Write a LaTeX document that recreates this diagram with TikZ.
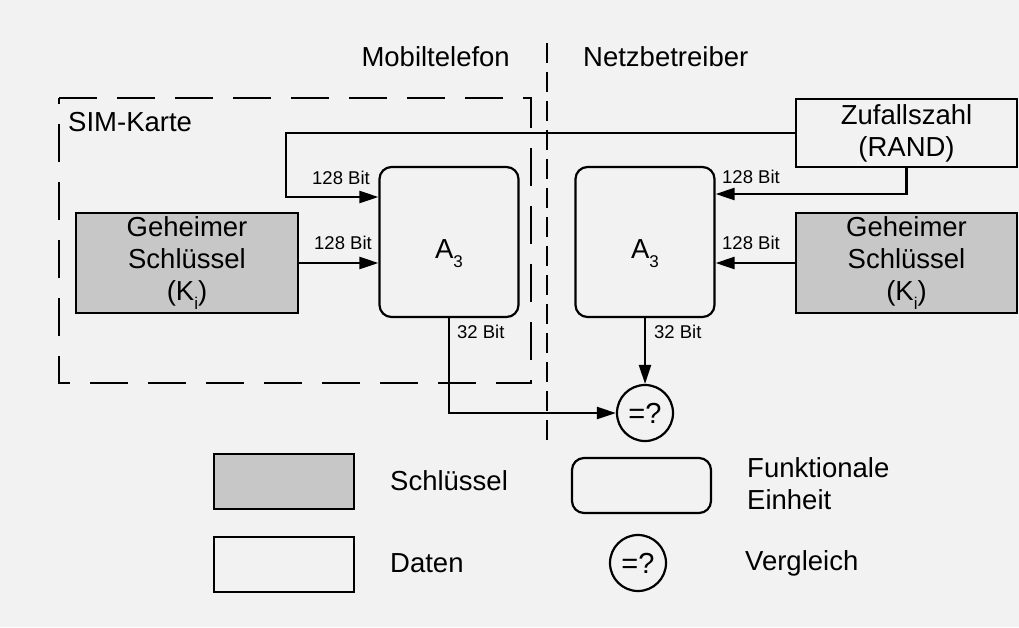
\documentclass[tikz,border=0pt]{standalone}
\usepackage{fontspec}
\setmainfont{Liberation Sans}
\usetikzlibrary{arrows.meta}
\newcommand{\subidx}[1]{\raisebox{-0.36em}{\fontsize{17}{17}\selectfont #1}}
\newcommand{\atext}{\raisebox{-16pt}[0pt][0pt]{A\subidx{3}}}
\begin{document}
\begin{tikzpicture}[x=1pt,y=-1pt,
  every node/.style={font=\fontsize{27.5}{32}\selectfont, inner sep=0pt},
  keybox/.style={draw, line width=2.2pt, fill=black!22, minimum width=222pt, minimum height=100pt, align=center},
  databox/.style={draw, line width=2.2pt, minimum width=221pt, minimum height=68pt, align=center},
  funcbox/.style={draw, line width=2.2pt, rounded corners=12pt, minimum width=139pt, minimum height=150pt},
  cmpnode/.style={draw, circle, line width=2.2pt, minimum size=56pt, font=\fontsize{29}{32}\selectfont},
  legbox/.style={draw, line width=2.2pt, minimum width=140pt, minimum height=55pt},
  conn/.style={line width=2.2pt},
  arr/.style={conn, -{Triangle[length=19pt,width=12pt]}},
  lbl/.style={font=\fontsize{18.5}{20}\selectfont},
  simline/.style={line width=2.6pt, dash pattern=on 38pt off 20pt},
  divline/.style={line width=2.6pt, dash pattern=on 20pt off 9pt}
]
% background / bounding box
\fill[black!5] (0,0) rectangle (1019,627);
\useasboundingbox (0,0) rectangle (1019,627);

% region headings
\node[anchor=east] (mob) at (510,57) {Mobiltelefon};
\node[anchor=west] (netz) at (583,57) {Netzbetreiber};

% SIM card border
\coordinate (s1) at (59,383);
\coordinate (s2) at (59,98);
\coordinate (s3) at (531,98);
\coordinate (s4) at (531,383);
\draw[simline] (s2) -- (s3) -- (s4) -- (s1) -- cycle;
\node[anchor=west] (sim) at (68,122) {SIM-Karte};

% divider
\coordinate (dtop) at (547,43);
\coordinate (dbot) at (547,443);
\draw[divline] (dtop) -- (dbot);

% main nodes
\node[keybox] (keyL) at (187,263) {Geheimer\\Schlüssel\\(K\subidx{i})};
\node[funcbox] (A3L) at (449,242) {\atext};
\node[funcbox] (A3R) at (645,242) {\atext};
\node[databox] (rand) at (906.5,133) {Zufallszahl\\(RAND)};
\node[keybox, minimum width=221pt] (keyR) at (906.5,263) {Geheimer\\Schlüssel\\(K\subidx{i})};
\node[cmpnode] (cmp) at (645,413) {=?};

% connectors
\coordinate (r1) at (286,133);
\coordinate (r2) at (286,197);
\draw[arr] (rand.west) -- (r1) -- (r2) -- (r2 -| A3L.west);
\draw[arr] (keyL.east) -- (keyL.east -| A3L.west);
\coordinate (r3) at (906.5,194);
\draw[arr] (rand.south) -- (r3) -- (r3 -| A3R.east);
\draw[arr] (keyR.west) -- (keyR.west -| A3R.east);
\coordinate (c1) at (449,413);
\draw[arr] (A3L.south) -- (c1) -- (cmp.west);
\draw[arr] (A3R.south) -- (cmp.north);

% connector labels
\node[lbl] (l1) at (341,178) {128 Bit};
\node[lbl] (l2) at (343,243) {128 Bit};
\node[lbl] (l3) at (751,177) {128 Bit};
\node[lbl] (l4) at (751,243) {128 Bit};
\node[lbl, anchor=west] (l5) at (457,332) {32 Bit};
\node[lbl, anchor=west] (l6) at (654,332) {32 Bit};

% legend
\node[legbox, fill=black!22] (legkey) at (284,481.5) {};
\node[anchor=west] (legkeyt) at (390,481) {Schlüssel};
\node[legbox] (legdata) at (284,564.5) {};
\node[anchor=west] (legdatat) at (390,563) {Daten};
\node[legbox, rounded corners=12pt, minimum width=139pt] (legfunc) at (641.5,485.5) {};
\node[anchor=west, align=left] (legfunct) at (747,484) {Funktionale\\Einheit};
\node[cmpnode] (legcmp) at (638,563) {=?};
\node[anchor=west] (legcmpt) at (745,563) {Vergleich};
\end{tikzpicture}
\end{document}
